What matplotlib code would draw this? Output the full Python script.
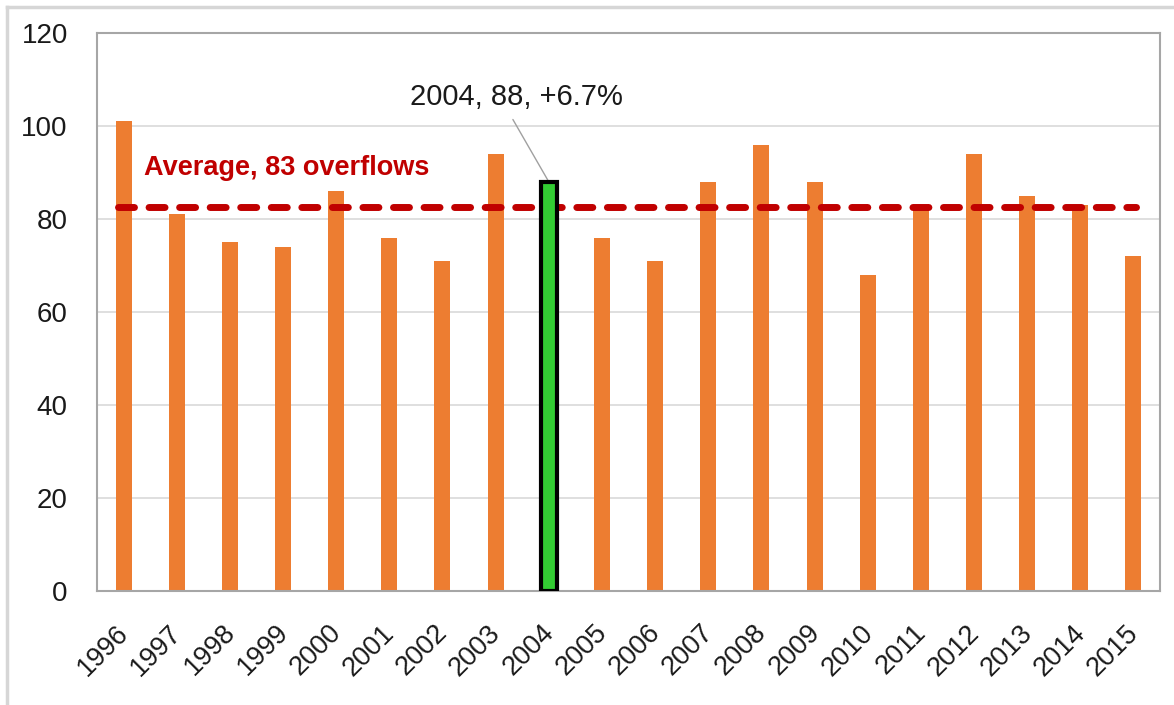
import matplotlib.pyplot as plt
from matplotlib.lines import Line2D
from matplotlib.transforms import ScaledTranslation
import numpy as np

plt.rcParams["font.family"] = ["Liberation Sans", "DejaVu Sans"]

# annual overflow counts
years = [str(y) for y in range(1996, 2016)]
overflows = [101, 81, 75, 74, 86, 76, 71, 94, 88, 76,
             71, 88, 96, 88, 68, 83, 94, 85, 83, 72]
highlight_year = "2004"
y_ticks = [0, 20, 40, 60, 80, 100, 120]

orange = "#ED7D31"
green = "#33CC33"
dark_red = "#C00000"
text_col = "#1a1a1a"

avg = np.mean(overflows)
hi = years.index(highlight_year)
hi_val = overflows[hi]
pct = (hi_val / avg - 1) * 100

fig = plt.figure(figsize=(11.74, 7.05), dpi=100)
ax = fig.add_axes([0.0826, 0.1617, 0.9055, 0.7915])

x = np.arange(len(years))
colors = [green if y == highlight_year else orange for y in years]
bars = ax.bar(x, overflows, width=0.3, color=colors, zorder=2)
bars[hi].set_edgecolor("black")
bars[hi].set_linewidth(3)
bars[hi].set_zorder(4)

# average line
ax.plot([-0.1, 19.05], [avg, avg], color=dark_red, lw=5,
        dashes=(2.3, 2.1), dash_capstyle="round", zorder=3)
ax.text(0.39, avg + 8.5, f"Average, {int(avg + 0.5)} overflows", color=dark_red,
        fontsize=19.5, fontweight="bold", ha="left", va="center")

ax.annotate(f"{highlight_year}, {hi_val}, +{pct:.1f}%",
            xy=(hi, hi_val), xytext=(hi - 0.61, 106.3),
            fontsize=21, ha="center", va="center", color=text_col,
            arrowprops=dict(arrowstyle="-", color="#A0A0A0", lw=1,
                            relpos=(0.46, 0), shrinkA=5, shrinkB=0))

ax.set_xlim(-0.5, 19.5)
ax.set_ylim(0, 120)
ax.set_yticks(y_ticks)
ax.set_xticks(x)
ax.set_xticklabels(years, rotation=45, ha="right", va="top",
                   rotation_mode="anchor", fontsize=19.5, color=text_col)
ax.tick_params(axis="y", labelsize=20, labelcolor=text_col, length=0, pad=21)
ax.tick_params(axis="x", length=0, pad=12)
shift = ScaledTranslation(-8 / 100, -12 / 100, fig.dpi_scale_trans)
for lbl in ax.get_xticklabels():
    lbl.set_transform(lbl.get_transform() + shift)
ax.yaxis.grid(True, color="#D9D9D9", lw=1.2, zorder=0)
ax.set_axisbelow(True)
for s in ax.spines.values():
    s.set_color("#A6A6A6")
    s.set_linewidth(1.5)

# light outer frame
fig.add_artist(Line2D([7 / 1174, 1], [1 - 7 / 705, 1 - 7 / 705],
                      color="#D6D6D6", lw=2.5, transform=fig.transFigure))
fig.add_artist(Line2D([7 / 1174, 7 / 1174], [0, 1 - 7 / 705],
                      color="#D6D6D6", lw=2.5, transform=fig.transFigure))

fig.savefig("out.png", dpi=100)
